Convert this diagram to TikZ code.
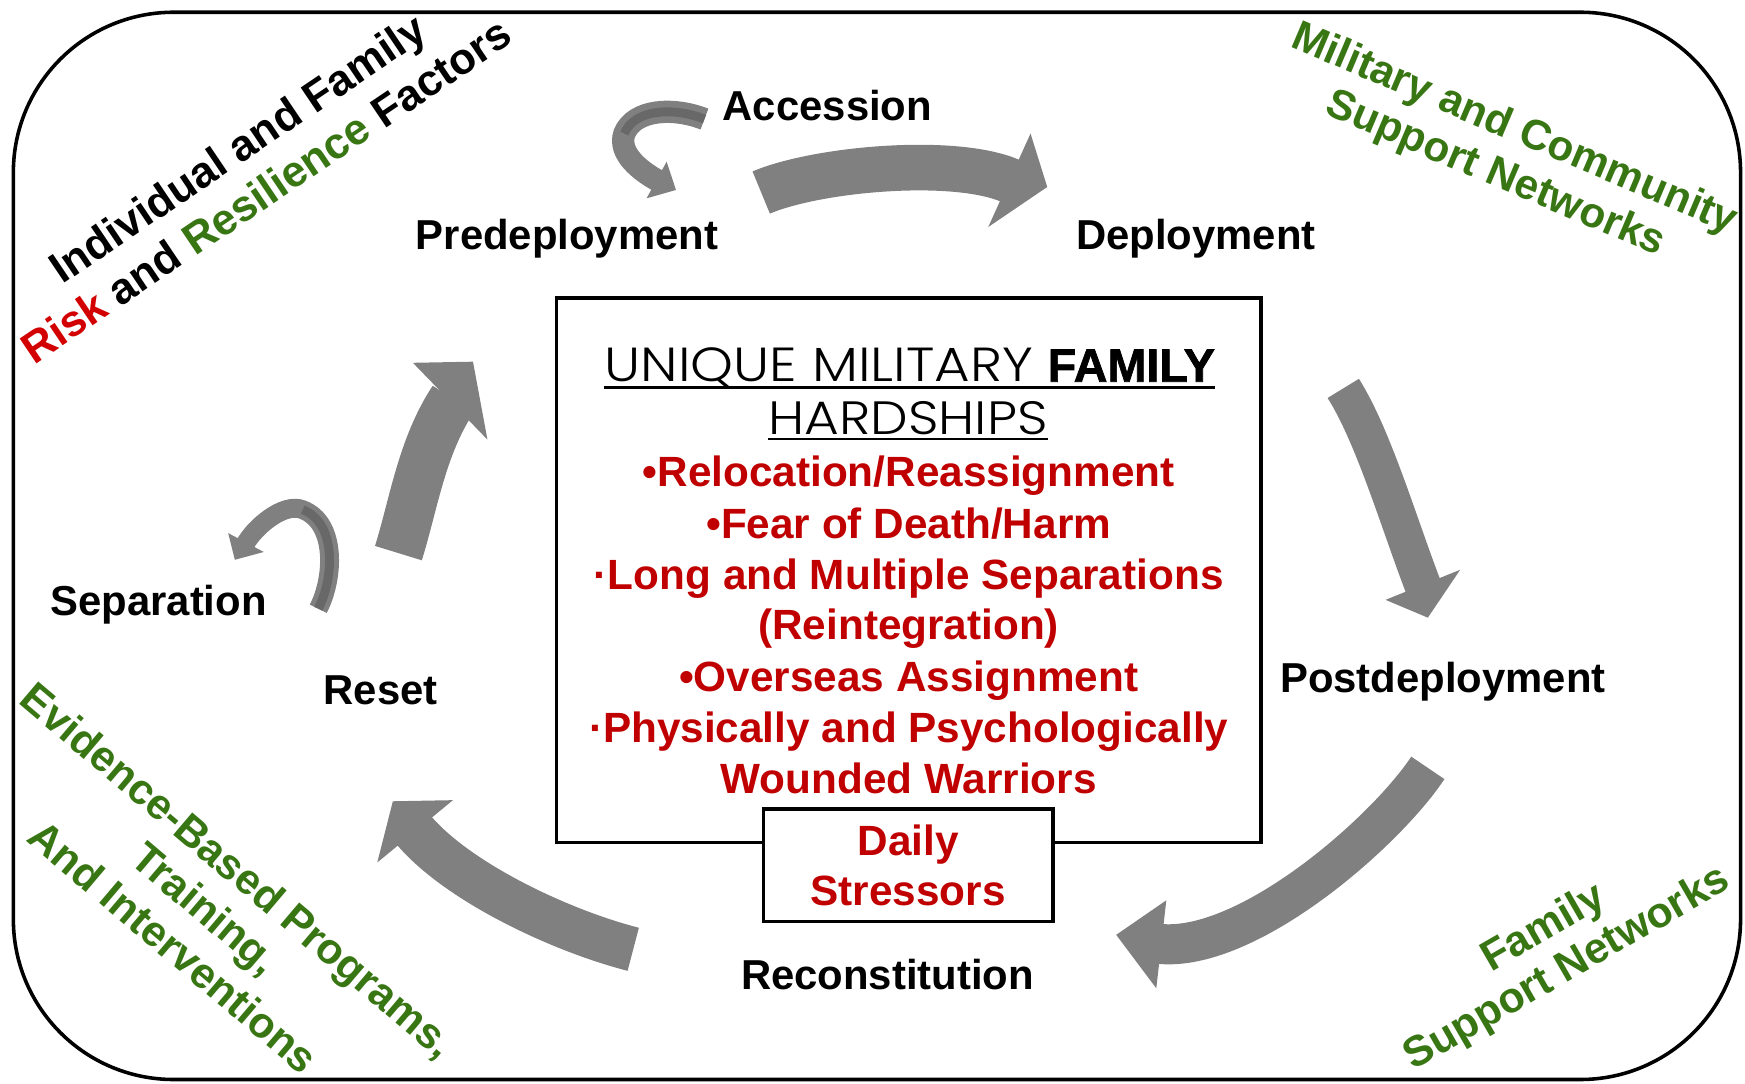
\documentclass[tikz,border=0pt]{standalone}
\usepackage{fontspec}
\setmainfont{Liberation Sans}
\newfontfamily\thinf{Poppins Light}[FakeStretch=1.14]
\newfontfamily\heavyf{Liberation Sans}[BoldFeatures={FakeBold=1.5}]
\definecolor{agray}{RGB}{128,128,128}
\definecolor{adark}{RGB}{104,104,104}
\definecolor{hred}{RGB}{192,0,0}
\definecolor{rred}{RGB}{210,0,0}
\definecolor{grn}{RGB}{56,118,20}
\begin{document}
\begin{tikzpicture}[x=0.5pt,y=-0.5pt,
  lbl/.style={anchor=base, inner sep=0pt, font=\bfseries\fontsize{18.8}{22}\selectfont},
  hard/.style={anchor=base, inner sep=0pt, text=hred, font=\bfseries\fontsize{19}{23}\selectfont},
  corner/.style={inner sep=0pt, align=center, text=grn},
  abody/.style={draw=agray, line cap=butt},
  ahead/.style={fill=agray},
  band/.style={draw=adark, line cap=butt, line width=4pt},
  frame/.style={draw=black, line width=1.6pt}]
\useasboundingbox (0,0) rectangle (1568,974);
\fill[white] (0,0) rectangle (1568,974);

% outer frame
\node[frame, rounded corners=72pt, minimum width=776pt, minimum height=479.5pt, inner sep=0pt] (outer) at (788,490.5) {};

% central box
\node[frame, minimum width=316.5pt, minimum height=244.5pt, inner sep=0pt] (box) at (816.5,512.5) {};

% header
\node[anchor=base, inner sep=0pt] (h1) at (817.5,343)
  {{\thinf\fontsize{21.5}{24}\selectfont UNIQUE MILITARY }{\heavyf\bfseries\fontsize{21}{24}\selectfont FAMILY}};
\node[anchor=base, inner sep=0pt, font=\thinf\fontsize{21}{24}\selectfont] (h2) at (816,390) {HARDSHIPS};
\draw[line width=1pt] ([yshift=-2.6pt]h1.base west) -- ([yshift=-2.6pt]h1.base east);
\draw[line width=1pt] ([yshift=-2.3pt]h2.base west) -- ([yshift=-2.3pt]h2.base east);

% hardships
\node[hard] (l1) at (816.5,437) {•Relocation/Reassignment};
\node[hard] (l2) at (816.5,484) {•Fear of Death/Harm};
\node[hard] (l3) at (816.5,530) {·Long and Multiple Separations};
\node[hard] (l4) at (816.5,575) {(Reintegration)};
\node[hard] (l5) at (816.5,621) {•Overseas Assignment};
\node[hard] (l6) at (816.5,667) {·Physically and Psychologically};
\node[hard] (l7) at (816.5,713) {Wounded Warriors};

% daily stressors
\node[frame, fill=white, minimum width=130pt, minimum height=50.5pt, inner sep=0pt,
      align=center, text=hred, font=\bfseries\fontsize{19}{22.5}\selectfont] (daily) at (816,777.5) {Daily\\Stressors};

% stage labels
\node[lbl] (acc) at (743.5,108.5) {Accession};
\node[lbl] (pre) at (509.5,224) {Predeployment};
\node[lbl] (dep) at (1074.5,224) {Deployment};
\node[lbl] (post) at (1296.5,622) {Postdeployment};
\node[lbl] (rec) at (797.5,889) {Reconstitution};
\node[lbl] (res) at (342,633) {Reset};
\node[lbl] (sep) at (142.5,553) {Separation};

% corner texts
\node[corner, text=black, rotate=34, font=\bfseries\fontsize{19.6}{23}\selectfont] (risk) at (226,152)
  {Individual and Family\\\textcolor{rred}{Risk} and \textcolor{grn}{Resilience} Factors};
\node[corner, rotate=-23, font=\bfseries\fontsize{19}{21.8}\selectfont] (mil) at (1352,137)
  {Military and Community\\Support Networks};
\node[corner, rotate=-40.3, font=\bfseries\fontsize{19.2}{22.5}\selectfont] (ebp) at (185,816)
  {Evidence-Based Programs,\\Training,\\And Interventions};
\node[corner, rotate=30, font=\bfseries\fontsize{19.2}{20.8}\selectfont] (fam) at (1398,853)
  {Family\\Support Networks};

% big arrows
% predeployment -> deployment
\draw[abody, line width=20.5pt] (684,173) .. controls (734.6,151.5) and (859,140.5) .. (909,163);
\fill[ahead] (926,120) -- (941,168) -- (888,204) -- cycle;
% deployment -> postdeployment
\draw[abody, line width=16.5pt] (1207,349) .. controls (1234.5,392.5) and (1257.5,472) .. (1280,530);
\fill[ahead] (1245,539) -- (1283,555) -- (1312,512) -- cycle;
% postdeployment -> reconstitution
\draw[abody, line width=18pt] (1283,690) .. controls (1244.5,748) and (1120,857) .. (1040.5,848);
\fill[ahead] (1048,809) -- (1003,840) -- (1039,888) -- cycle;
% reconstitution -> reset
\draw[abody, line width=20pt] (569,853) .. controls (501,835.5) and (409,791) .. (371,745);
\fill[ahead] (407,719) -- (353,720) -- (339,775) -- cycle;
% reset -> predeployment
\draw[abody, line width=22pt] (358,497) .. controls (371.5,454) and (379,401) .. (407.3,358.6);
\fill[ahead] (371,326) -- (425,325) -- (438,395) -- cycle;

% accession loop
\draw[abody, line width=10pt] (633,107) .. controls (605,96) and (570,98) .. (561,120)
   .. controls (555,138) and (575.7,153.9) .. (591.5,162.5);
\draw[band] (633,107) .. controls (605,96) and (570,98) .. (561,120);
\fill[ahead] (599,145.3) -- (607.4,170.7) -- (581,178.2) -- cycle;

% separation loop
\draw[abody, line width=8.5pt] (286,547) .. controls (300,520) and (303,470) .. (272,458)
   .. controls (255,451) and (228.5,473.7) .. (220,489.5);
\draw[band] (286,547) .. controls (300,520) and (303,470) .. (272,458);
\fill[ahead] (205,479) -- (211,503) -- (237,496) -- cycle;
\end{tikzpicture}
\end{document}
